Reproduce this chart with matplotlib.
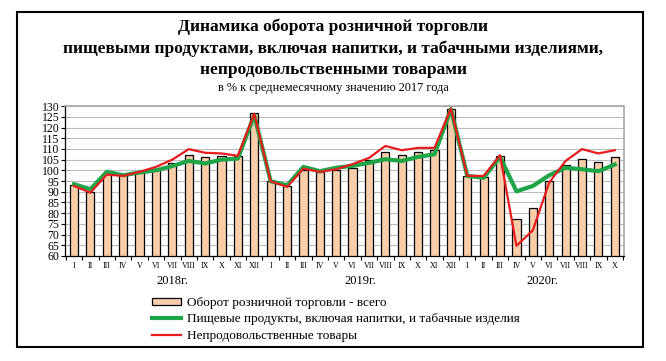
import matplotlib

matplotlib.use('Agg')
import matplotlib.pyplot as plt
from matplotlib.patches import Rectangle, Patch
from matplotlib.lines import Line2D

plt.rcParams['font.family'] = ['Liberation Serif', 'DejaVu Serif']

months = ['I', 'II', 'III', 'IV', 'V', 'VI', 'VII', 'VIII', 'IX', 'X', 'XI', 'XII',
          'I', 'II', 'III', 'IV', 'V', 'VI', 'VII', 'VIII', 'IX', 'X', 'XI', 'XII',
          'I', 'II', 'III', 'IV', 'V', 'VI', 'VII', 'VIII', 'IX', 'X']
years = ['2018г.', '2019г.', '2020г.']

total = [93.1, 89.9, 98.5, 97.7, 99.3, 100.5, 103.2, 107.1, 106.0, 106.6, 106.6, 126.6,
         94.9, 92.7, 100.0, 99.0, 100.0, 101.2, 104.7, 108.6, 107.1, 108.6, 109.4, 128.6,
         97.4, 97.0, 106.6, 77.1, 82.4, 94.9, 102.7, 105.5, 103.7, 106.0]
food = [93.5, 91.2, 99.3, 97.7, 99.0, 100.0, 102.0, 104.4, 103.2, 105.0, 105.5, 125.8,
        94.9, 93.0, 101.6, 99.6, 101.2, 102.1, 103.5, 105.2, 104.4, 106.3, 107.5, 128.6,
        97.4, 96.5, 106.3, 90.2, 92.7, 97.7, 101.2, 100.5, 99.6, 102.7]
nonfood = [92.7, 89.6, 98.0, 97.4, 99.3, 101.6, 105.0, 109.9, 108.2, 107.9, 106.8, 126.5,
           94.9, 92.3, 100.8, 99.3, 100.5, 102.9, 105.8, 111.4, 109.4, 110.5, 110.5, 128.9,
           97.4, 97.4, 107.1, 64.7, 72.0, 94.3, 104.4, 109.9, 107.9, 109.4]

bar_color = '#F9CDA9'
green = '#1DA548'
red = '#E81B1E'

fig = plt.figure(figsize=(6.66, 3.61), dpi=100)
ax = fig.add_axes([0.0976, 0.291, 0.839, 0.415])

x = list(range(len(months)))
ax.bar(x, total, width=0.5, color=bar_color, edgecolor='black', linewidth=0.9, zorder=2)
ax.plot(x, food, color=green, linewidth=3.0, zorder=3)
ax.plot(x, nonfood, color=red, linewidth=1.6, zorder=4)

ax.set_xlim(-0.55, len(months) - 0.45)
ax.set_ylim(60, 130)
ax.set_yticks(range(60, 131, 5))
ax.tick_params(axis='y', labelsize=8.5, length=3, width=0.8, pad=1)
ax.yaxis.grid(True, color='#BDBDBD', linewidth=0.8, zorder=0)
ax.set_axisbelow(True)

ax.set_xticks([i - 0.5 for i in range(len(months) + 1)])
ax.set_xticklabels([])
ax.set_xticks(x, minor=True)
ax.set_xticklabels(months, minor=True, fontsize=5.8)
ax.tick_params(axis='x', which='major', length=3, width=0.8)
ax.tick_params(axis='x', which='minor', length=0, pad=4)

for side in ['top', 'right']:
    ax.spines[side].set_color('#A8A8A8')
    ax.spines[side].set_linewidth(1.2)
for side in ['left', 'bottom']:
    ax.spines[side].set_color('black')
    ax.spines[side].set_linewidth(0.9)

for pos, yr in zip([6, 17.5, 28.6], years):
    ax.text(pos, -0.165, yr, transform=ax.get_xaxis_transform(), ha='center', va='center', fontsize=9)

fig.text(0.5, 0.925, 'Динамика оборота розничной торговли', ha='center', va='center',
         fontsize=12.5, fontweight='bold')
fig.text(0.5, 0.866, 'пищевыми продуктами, включая напитки, и табачными изделиями,', ha='center',
         va='center', fontsize=12.5, fontweight='bold')
fig.text(0.5, 0.806, 'непродовольственными товарами', ha='center', va='center',
         fontsize=12.5, fontweight='bold')
fig.text(0.5, 0.755, 'в % к среднемесячному значению 2017 года', ha='center', va='center', fontsize=8.8)

handles = [Patch(facecolor=bar_color, edgecolor='black', linewidth=0.9),
           Line2D([], [], color=green, linewidth=3.0),
           Line2D([], [], color=red, linewidth=1.6)]
labels = ['Оборот розничной торговли - всего',
          'Пищевые продукты, включая напитки, и табачные изделия',
          'Непродовольственные товары']
fig.legend(handles, labels, loc='upper left', bbox_to_anchor=(0.228, 0.177), frameon=False,
           fontsize=9.5, handlelength=2.2, handleheight=0.5, handletextpad=0.45,
           labelspacing=0.33, borderpad=0, borderaxespad=0)

frame = Rectangle((0.026, 0.04), 0.939, 0.927, transform=fig.transFigure, fill=False,
                  edgecolor='black', linewidth=1.5)
fig.patches.append(frame)

fig.savefig('out.png', dpi=100, facecolor='white')
